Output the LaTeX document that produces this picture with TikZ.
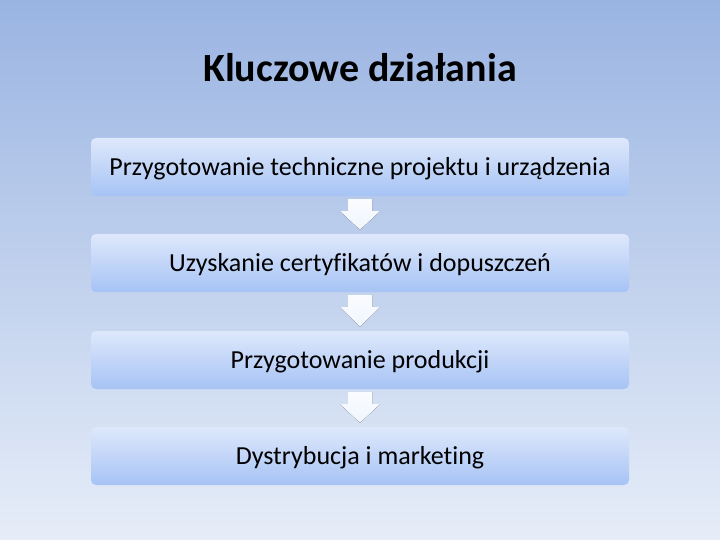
\documentclass[tikz,border=0pt]{standalone}
\usepackage{fontspec}
\setmainfont{Carlito}[Ligatures=CommonOff]
\usetikzlibrary{calc}

\definecolor{bgtop}{HTML}{9AB4E2}
\definecolor{bgbottom}{HTML}{E6EDF8}
\definecolor{boxtop}{HTML}{DEE8FB}
\definecolor{boxbottom}{HTML}{A6C3F5}

\begin{document}
\begin{tikzpicture}[
    x=1pt, y=-1pt,
    step box/.style={rounded corners=5pt, minimum width=538pt, minimum height=58pt, inner sep=0pt, top color=boxtop, bottom color=boxbottom, font=\fontsize{26}{30}\selectfont, text height=16.6pt, text depth=0pt},
    title style/.style={font=\fontsize{40}{48}\selectfont\bfseries, text height=25.5pt, text depth=0pt},
    arrow style/.style={top color=white!85!boxtop, bottom color=white!55!boxtop}
]

% Draw the background
\shade[top color=bgtop, bottom color=bgbottom] (0,0) rectangle (720,540);

% Title
\node[title style] (title) at (360,69) {Kluczowe działania};

% Draw the steps
\node[step box] (s1) at (360,167) {Przygotowanie techniczne projektu i urządzenia};
\node[step box] (s2) at (360,263) {Uzyskanie certyfikatów i dopuszczeń};
\node[step box] (s3) at (360,360) {Przygotowanie produkcji};
\node[step box] (s4) at (360,456) {Dystrybucja i marketing};

% Block arrows between the steps
\foreach \a/\b in {s1/s2, s2/s3, s3/s4} {
    \fill[arrow style] ($(\a.south)+(-12,3)$) -- ($(\a.south)+(12,3)$) -- ($(\a.south)+(12,15)$)
        -- ($(\a.south)+(20,15)$) -- ($(\b.north)+(0,-4)$) -- ($(\a.south)+(-20,15)$)
        -- ($(\a.south)+(-12,15)$) -- cycle;
}
\end{tikzpicture}
\end{document}
